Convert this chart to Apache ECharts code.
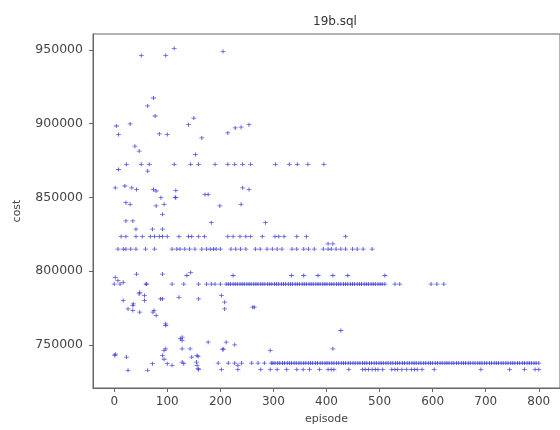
<!DOCTYPE html>
<html>
<head>
<meta charset="utf-8">
<script src="https://cdn.jsdelivr.net/npm/echarts@6/dist/echarts.min.js"></script>
<style>
html,body{margin:0;padding:0;background:#fff;}
#chart{width:560px;height:430px;}
</style>
</head>
<body>
<div id="chart"></div>
<script>
// Tick labels
const xTicks = [0, 100, 200, 300, 400, 500, 600, 700, 800];
const yTicks = [750000, 800000, 850000, 900000, 950000];

// Cost levels that many episodes share, with the episodes observed at each
const levelCosts = [737600, 733300, 791200, 797000, 814900, 818500, 823500, 872400];
const levelEpisodes = [
  // 737600
  [196,215,227,240,259,271,283,296,299,303,308,312,317,321,326,330,334,339,343,348,352,357,361,366,370,374,379,383,388,392,397,401,405,410,414,419,423,428,432,436,441,445,450,454,459,463,468,472,476,481,485,490,494,499,503,507,512,516,521,525,530,534,538,543,547,552,556,561,565,569,574,578,583,587,592,596,600,605,609,614,618,623,627,631,636,640,645,649,654,658,662,667,671,676,680,685,689,693,698,702,707,711,716,720,724,729,733,738,742,747,751,755,760,764,769,773,778,782,786,791,795,800],
  // 733300
  [159,202,233,276,294,307,325,344,356,368,387,403,409,414,442,468,473,479,486,492,497,506,523,529,534,542,551,560,566,571,580,603,691,745,773,793,800],
  // 791200
  [0,11,61,109,131,159,174,183,190,200,211,215,219,224,228,232,237,241,245,250,254,258,263,267,271,276,280,284,289,293,297,302,306,310,315,319,323,328,332,336,341,345,349,354,358,362,367,371,375,380,384,388,393,397,401,406,410,414,419,423,427,432,436,440,445,449,453,458,462,466,471,475,479,484,488,492,497,501,505,510,529,538,597,608,621],
  // 797000
  [137,224,334,357,384,412,440,510],
  // 814900
  [7,17,22,31,41,59,76,109,118,124,133,142,152,165,174,181,187,192,200,220,229,238,248,266,275,288,298,307,316,335,344,357,366,377,394,403,409,418,427,436,449,458,469,486],
  // 818500
  [403,412],
  // 823500
  [13,22,41,53,68,76,85,91,100,122,140,146,159,170,214,224,237,248,257,279,303,310,320,344,362,436],
  // 872400
  [23,51,66,113,144,159,190,214,227,242,257,304,330,345,365,395]
];

// Isolated points
const otherEpisodes = [51,97,113,205, 63,74,77,4,30,8,85,100,140,150,165,214,228,239,254, 39,47,153, 8,63,
  2,20,33,42,74,79,88,116,116,171,177,242,254, 30,79,199,239,22,94, 91,35,22,183,285,115, 41,72,91,
  2,7,17,42,60,48,57,17,36,26,48,73,79,91,91,122,159,202,208,208,97,144,261,47,57,35,35,75,87,97,264,
  128,128,97,128,143,91,1,23,146,158,2,94,94,125,156,177,205,227,211,205,294,412,427,
  109,128,155,72,100,131,156,233, 63,26,158];
const otherCosts = [946200,946200,951100,948900, 912000,917400,905200,898400,899800,892600,893000,892600,899300,903800,890300,893700,897100,897600,899300, 884700,881400,879000, 868900,867800,
  856500,857700,856500,855400,855400,854300,849800,854700,849800,852000,852000,856500,855400, 845300,844200,844200,845300,846400,845300, 838500,834000,834000,832800,832800,850000, 828400,828400,828400,
  795700,793500,792400,798000,791200,785600,783400,780000,777700,774300,772100,772100,769900,798000,781100,782200,781100,783400,778900,774300,763100,799100,775500,784500,780000,776600,773200,773200,781100,764200,775500,
  755200,753000,747300,747300,747300,742800,742800,741700,741700,742100,743600,746200,740200,754100,742800,751800,747300,750000,751800,746700,746200,747300,759700,
  736100,738300,738300,737200,737200,737200,736100,736100, 732700,732700,733800];

const points = [];
levelCosts.forEach((c, i) => levelEpisodes[i].forEach(e => points.push([e, c])));
otherEpisodes.forEach((e, i) => points.push([e, otherCosts[i]]));

const chart = echarts.init(document.getElementById('chart'), null, {renderer: 'canvas'});
const font = 'DejaVu Sans';
chart.setOption({
  animation: false,
  backgroundColor: '#ffffff',
  title: {
    text: '19b.sql', left: 330, top: 11, textAlign: 'center',
    textStyle: {fontFamily: font, fontSize: 12, fontWeight: 'normal', color: '#333'}
  },
  grid: {left: 93, top: 34, right: -8, bottom: 40, show: true, borderColor: '#666', borderWidth: 1},
  xAxis: {
    type: 'value', min: -40, max: 840,
    name: 'episode', nameLocation: 'middle', nameGap: 26,
    nameTextStyle: {fontFamily: font, fontSize: 11, color: '#444'},
    axisLine: {show: true, onZero: false, lineStyle: {color: '#666'}},
    axisTick: {show: true, length: 4, customValues: xTicks, lineStyle: {color: '#666'}},
    axisLabel: {customValues: xTicks, fontFamily: font, fontSize: 12, color: '#444', margin: 8,
      formatter: v => String(v)},
    splitLine: {show: false}
  },
  yAxis: {
    type: 'value', min: 720700, max: 960800,
    name: 'cost', nameLocation: 'middle', nameGap: 70,
    nameTextStyle: {fontFamily: font, fontSize: 11, color: '#444'},
    axisLine: {show: true, onZero: false, lineStyle: {color: '#666'}},
    axisTick: {show: true, length: 4, customValues: yTicks, lineStyle: {color: '#666'}},
    axisLabel: {customValues: yTicks, fontFamily: font, fontSize: 12.5, color: '#444', margin: 10,
      formatter: v => String(v)},
    splitLine: {show: false}
  },
  series: [{
    type: 'scatter',
    data: points,
    symbol: 'path://M2,0H3V2H5V3H3V5H2V3H0V2H2Z',
    symbolSize: [5, 4],
    itemStyle: {color: '#2a2ad6', opacity: 0.75}
  }]
});
</script>
</body>
</html>
